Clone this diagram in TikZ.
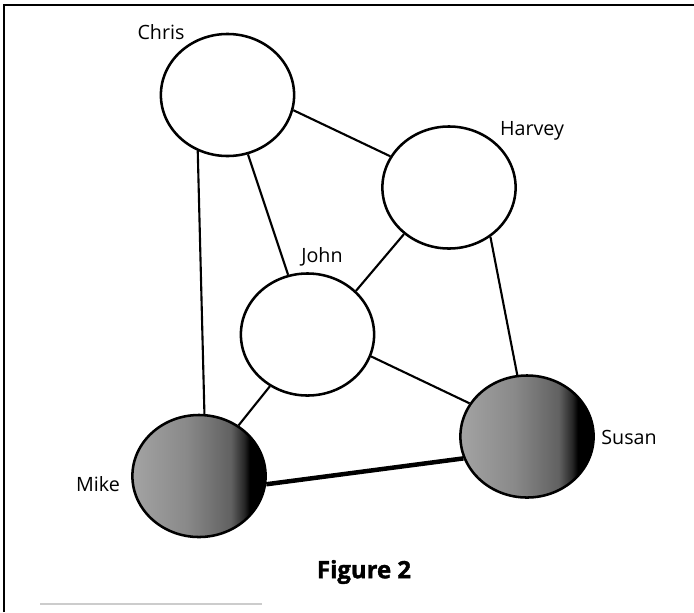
\documentclass[tikz,border=0pt]{standalone}
\usepackage{fontspec}
\setmainfont{Open Sans}
\newfontfamily\figfont{Open Sans}[BoldFeatures={FakeBold=1.6}]
\usetikzlibrary{shapes.geometric}

\pgfdeclarehorizontalshading{orb}{100bp}{color(0bp)=(black!36); color(25bp)=(black!36); color(45bp)=(black!46); color(62bp)=(black!62); color(67bp)=(black!85); color(69bp)=(black); color(100bp)=(black)}

\begin{document}
\begin{tikzpicture}[x=0.025cm, y=-0.025cm,
		every node/.style={ellipse, draw=black, line width=1.8pt, minimum width=3.33cm, minimum height=3.05cm, inner sep=0pt},
		every path/.style={draw=black, line width=1.5pt},
		dark/.style={shading=orb},
		tag/.style={draw=none, rectangle, minimum width=0pt, minimum height=0pt, inner sep=1pt, font=\fontsize{14}{16}\selectfont}]
				\useasboundingbox[draw=none] (0,0) rectangle (694,612);
				\path[line width=2pt] (4,612) -- (4,5) -- (694,5);
				\path[draw=black!20, line width=1pt] (40,604) -- (262,604);
				
				\node (chris) at (227.5,95){};
				\node (harvey) at (449,187.5){};
				\node (john) at (307.5,334.5){};
				\node[dark] (mike) at (199,476){};
				\node[dark] (susan) at (527,436.5){};
				
				\node[tag] (christ) at (161,32){Chris};
				\node[tag] (harveyt) at (532,131){Harvey};
				\node[tag] (johnt) at (322,257){John};
				\node[tag] (miket) at (98,484){Mike};
				\node[tag] (susant) at (629,437){Susan};
				\node[tag, font=\fontsize{17}{19}\figfont\bfseries] (fig) at (364,572){Figure 2};
				
				\path (chris.-13) edge (harvey.152);
				\path (chris.-71) edge (john.108);
				\path (chris.242) edge (mike.85);
				\path (harvey.226) edge (john.42);
				\path (harvey.-50) edge (susan.99);
				\path (john.-19) edge (susan.150);
				\path (john.234) edge (mike.52);
				\path (mike.-7) edge[line width=3.2pt] (susan.199);
				\end{tikzpicture}
\end{document}
